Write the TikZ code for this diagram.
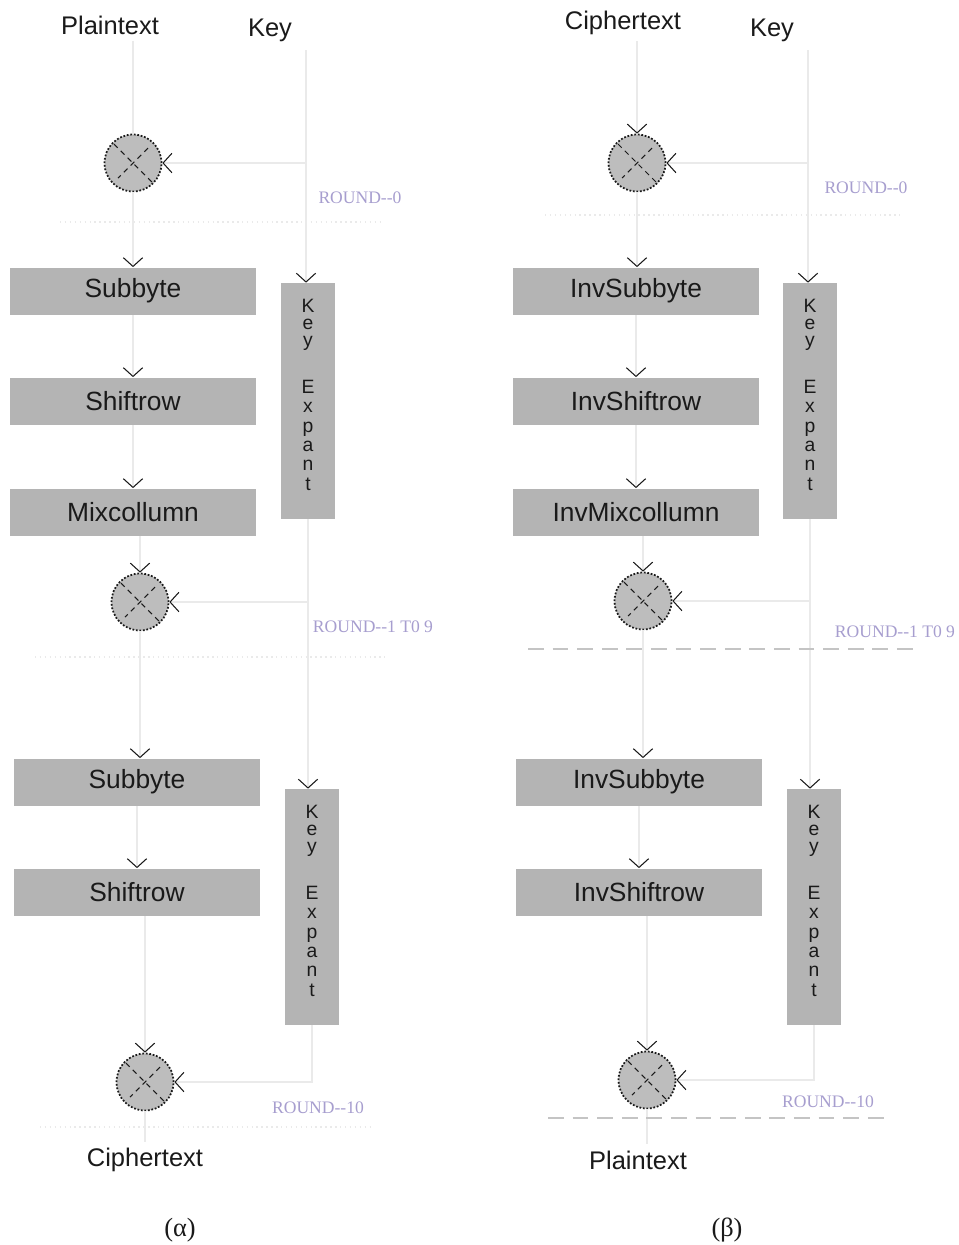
\documentclass[tikz,border=0pt]{standalone}
\usepackage{fontspec}
\setmainfont{Liberation Serif}
\setsansfont{Liberation Sans}
\usetikzlibrary{arrows.meta}
\definecolor{Ink}{HTML}{1A1A1A}
\definecolor{Wire}{HTML}{EAEAEA}
\definecolor{Stage}{HTML}{B4B4B4}
\definecolor{Xor}{HTML}{BDBDBD}
\definecolor{Lilac}{HTML}{A79ECF}
\definecolor{Cut}{HTML}{C4C4C4}
\newcommand{\keytext}{K\\[-1.5pt]e\\[-1.5pt]y\\[16pt]E\\x\\p\\a\\n\\t\\[-4pt]~}

\begin{document}
\begin{tikzpicture}[x=0.02cm,y=-0.02cm,every node/.style={font=\sffamily\fontsize{14.5}{17}\selectfont,text=Ink},wire/.style={draw=Wire,line width=0.7pt},flow/.style={wire,-{Straight Barb[length=5pt,width=11pt,line width=0.6pt,color=Ink]}},stage/.style={fill=Stage,minimum width=4.94cm,minimum height=0.94cm,inner sep=0pt,font=\sffamily\fontsize{15}{18}\selectfont},keybox/.style={fill=Stage,minimum width=1.08cm,minimum height=4.72cm,inner sep=0pt,align=center,font=\sffamily\fontsize{11}{11}\selectfont},xorgate/.style={circle,fill=Xor,draw=Ink,densely dotted,line width=1pt,minimum size=1.14cm,inner sep=0pt,path picture={\draw[Ink,line width=0.6pt,dash pattern=on 3pt off 2.5pt] ([shift={(-0.38cm,0.38cm)}]path picture bounding box.center) -- ([shift={(0.38cm,-0.38cm)}]path picture bounding box.center) ([shift={(0.3cm,0.3cm)}]path picture bounding box.center) -- ([shift={(-0.3cm,-0.3cm)}]path picture bounding box.center);}},roundlbl/.style={font=\rmfamily\fontsize{10}{12}\selectfont,text=Lilac},faint/.style={draw=Wire,line width=0.8pt,dotted},cut/.style={draw=Cut,line width=1pt,dash pattern=on 9pt off 5pt}]
\useasboundingbox[fill=white] (0,0) rectangle (959,1245);

% (a) encryption
\node (pa) at (110,25) {Plaintext};
\node (ka) at (270,30) {Key};
\coordinate (kta) at (306,50);
\node[xorgate] (xa0) at (133,163) {};
\node[stage] (sa1) at (133,291) {Subbyte};
\node[stage] (sa2) at (133,401) {Shiftrow};
\node[stage] (sa3) at (133,512) {Mixcollumn};
\node[keybox] (kea1) at (308,401) {\keytext};
\node[xorgate] (xa1) at (140,602) {};
\node[stage] (sa4) at (137,782) {Subbyte};
\node[stage] (sa5) at (137,892) {Shiftrow};
\node[keybox] (kea2) at (312,907) {\keytext};
\node[xorgate] (xa2) at (145,1082) {};
\node (ca) at (145,1160) {Ciphertext};
\node[roundlbl] (ra0) at (360,198) {ROUND-{}-0};
\node[roundlbl] (ra1) at (373,627) {ROUND-{}-1 T0 9};
\node[roundlbl] (ra2) at (318,1108) {ROUND-{}-10};
\node[font=\rmfamily\fontsize{15}{18}\selectfont] (capa) at (180,1230) {(α)};

\draw[wire] (xa0 |- pa.south) -- (xa0.north);
\draw[flow] (xa0.south) -- (xa0.south |- sa1.north);
\foreach \a/\b in {sa1/sa2,sa2/sa3,sa4/sa5}{\draw[flow] (\a.south) -- (\b.north);}
\draw[flow] (xa1 |- sa3.south) -- (xa1.north);
\draw[flow] (xa1.south) -- (xa1.south |- sa4.north);
\draw[flow] (xa2 |- sa5.south) -- (xa2.north);
\draw[wire] (xa2.south) -- (ca.north);
\draw[flow] (kta) -- (kta |- xa0) -- (xa0.east);
\draw[flow] (kta |- xa0) -- (kta |- kea1.north);
\draw[flow] (kea1.south) -- (kea1.south |- xa1) -- (xa1.east);
\draw[flow] (kea1.south |- xa1) -- (kea1.south |- kea2.north);
\draw[flow] (kea2.south) -- (kea2.south |- xa2) -- (xa2.east);
\draw[faint] (60,222) -- (380,222);
\draw[faint] (35,657) -- (385,657);
\draw[faint] (40,1127) -- (370,1127);

% (b) decryption
\node (cb) at (623,23) {Ciphertext};
\node (kb) at (772,30) {Key};
\coordinate (ktb) at (808,50);
\node[xorgate] (xb0) at (637,163) {};
\node[stage] (sb1) at (636,291) {InvSubbyte};
\node[stage] (sb2) at (636,401) {InvShiftrow};
\node[stage] (sb3) at (636,512) {InvMixcollumn};
\node[keybox] (keb1) at (810,401) {\keytext};
\node[xorgate] (xb1) at (643,601) {};
\node[stage] (sb4) at (639,782) {InvSubbyte};
\node[stage] (sb5) at (639,892) {InvShiftrow};
\node[keybox] (keb2) at (814,907) {\keytext};
\node[xorgate] (xb2) at (647,1080) {};
\node (pb) at (638,1160) {Plaintext};
\node[roundlbl] (rb0) at (866,188) {ROUND-{}-0};
\node[roundlbl] (rb1) at (895,632) {ROUND-{}-1 T0 9};
\node[roundlbl] (rb2) at (828,1102) {ROUND-{}-10};
\node[font=\rmfamily\fontsize{15}{18}\selectfont] (capb) at (727,1230) {(β)};

\draw[flow] (xb0 |- cb.south) -- (xb0.north);
\draw[flow] (xb0.south) -- (xb0.south |- sb1.north);
\foreach \a/\b in {sb1/sb2,sb2/sb3,sb4/sb5}{\draw[flow] (\a.south) -- (\b.north);}
\draw[flow] (xb1 |- sb3.south) -- (xb1.north);
\draw[flow] (xb1.south) -- (xb1.south |- sb4.north);
\draw[flow] (xb2 |- sb5.south) -- (xb2.north);
\draw[wire] (xb2.south) -- (xb2.south |- pb.north);
\draw[flow] (ktb) -- (ktb |- xb0) -- (xb0.east);
\draw[flow] (ktb |- xb0) -- (ktb |- keb1.north);
\draw[flow] (keb1.south) -- (keb1.south |- xb1) -- (xb1.east);
\draw[flow] (keb1.south |- xb1) -- (keb1.south |- keb2.north);
\draw[flow] (keb2.south) -- (keb2.south |- xb2) -- (xb2.east);
\draw[faint] (545,215) -- (900,215);
\draw[cut] (528,649) -- (918,649);
\draw[cut] (548,1118) -- (888,1118);
\end{tikzpicture}
\end{document}
